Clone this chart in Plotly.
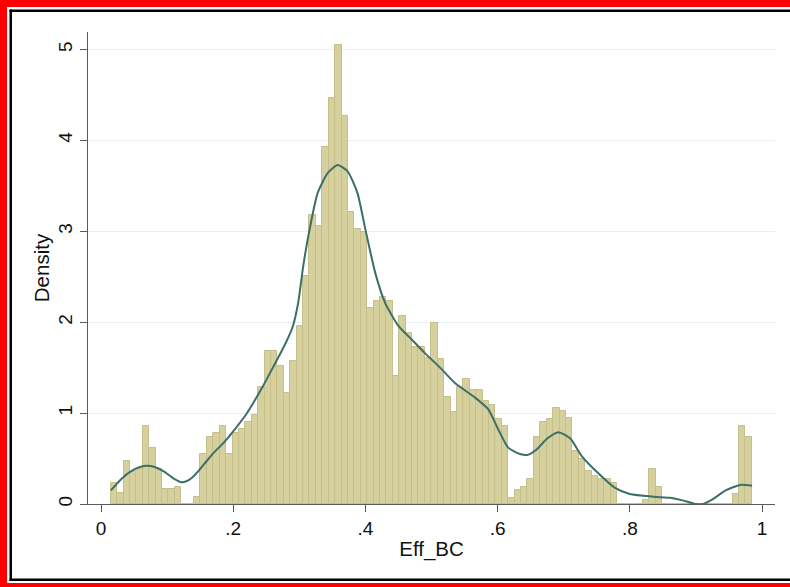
import plotly.graph_objects as go

# ---- data ----
bin_start = 0.0147
bin_width = 0.0097
densities = [
    0.23, 0.12, 0.47, 0.35, 0.38, 0.86, 0.62, 0.38, 0.16, 0.16,
    0.19, 0.00, 0.00, 0.08, 0.55, 0.74, 0.78, 0.86, 0.55, 0.78,
    0.82, 0.90, 0.98, 1.29, 1.68, 1.68, 1.52, 1.22, 1.57, 1.96,
    2.51, 3.18, 3.06, 3.93, 4.47, 5.05, 4.27, 3.21, 3.02, 2.99,
    2.16, 2.23, 2.28, 2.23, 1.41, 2.07, 1.88, 1.73, 1.73, 1.61,
    1.99, 1.60, 1.18, 1.01, 1.29, 1.37, 1.25, 1.25, 1.13, 1.09,
    0.94, 0.86, 0.07, 0.15, 0.19, 0.28, 0.74, 0.90, 0.94, 1.06,
    1.02, 0.95, 0.58, 0.49, 0.36, 0.31, 0.28, 0.28, 0.23, 0.00,
    0.00, 0.00, 0.00, 0.04, 0.39, 0.19, 0.00, 0.00, 0.00, 0.00,
    0.00, 0.00, 0.00, 0.00, 0.00, 0.00, 0.00, 0.11, 0.86, 0.74,
]

kde_x = [0.015, 0.03, 0.045, 0.06, 0.07, 0.08, 0.095, 0.11, 0.122, 0.132,
         0.142, 0.155, 0.17, 0.185, 0.2, 0.22, 0.243, 0.26, 0.28, 0.29,
         0.298, 0.306, 0.315, 0.3277, 0.3429, 0.358, 0.3731, 0.388, 0.400,
         0.415, 0.43, 0.45, 0.47, 0.49, 0.513, 0.5355, 0.566, 0.586, 0.601,
         0.616, 0.634, 0.645, 0.659, 0.675, 0.692, 0.71, 0.727, 0.752, 0.777,
         0.80, 0.836, 0.861, 0.88, 0.899, 0.911, 0.925, 0.945, 0.967, 0.985]
kde_y = [0.15, 0.27, 0.36, 0.41, 0.42, 0.41, 0.36, 0.28, 0.24, 0.26,
         0.32, 0.43, 0.56, 0.67, 0.80, 0.99, 1.27, 1.50, 1.78, 1.95,
         2.20, 2.62, 3.00, 3.42, 3.64, 3.73, 3.66, 3.42, 3.02,
         2.54, 2.21, 1.96, 1.81, 1.66, 1.50, 1.33, 1.17, 1.04, 0.82,
         0.62, 0.55, 0.54, 0.60, 0.72, 0.79, 0.72, 0.53, 0.34, 0.18,
         0.11, 0.08, 0.068, 0.04, 0.0, 0.0, 0.05, 0.15, 0.21, 0.20]

x_tickvals = [0, 0.2, 0.4, 0.6, 0.8, 1]
x_ticktext = ["0", ".2", ".4", ".6", ".8", "1"]
y_tickvals = [0, 1, 2, 3, 4, 5]
y_ticktext = ["0", "1", "2", "3", "4", "5"]

bin_centers = [bin_start + bin_width * (i + 0.5) for i in range(len(densities))]

# ---- geometry ----
W, H = 790, 587
L, R, T, B = 88, 15, 32, 83
PW, PH = W - L - R, H - T - B


def px(x):
    return (x - L) / PW


def py(y):
    return (H - B - y) / PH


fig = go.Figure()
fig.add_trace(go.Bar(
    x=bin_centers, y=densities, width=bin_width,
    marker=dict(color="#d5d09e", line=dict(color="#c5bf8a", width=1)),
    showlegend=False, hoverinfo="x+y",
))
fig.add_trace(go.Scatter(
    x=kde_x, y=kde_y, mode="lines",
    line=dict(color="#3b6f69", width=2, shape="spline", smoothing=0.6),
    showlegend=False,
))

font_family = "Liberation Sans, Arial, Helvetica, sans-serif"
axis_color = "#5a5a5a"

fig.update_layout(
    width=W, height=H,
    margin=dict(l=L, r=R, t=T, b=B),
    paper_bgcolor="white", plot_bgcolor="white",
    bargap=0,
    font=dict(family=font_family, size=19, color="#111"),
    xaxis=dict(
        range=[-13 / 661, 1 + 13 / 661],
        tickvals=x_tickvals, ticktext=x_ticktext,
        ticks="outside", ticklen=7, tickcolor=axis_color, tickwidth=1,
        showline=True, linecolor=axis_color, linewidth=1,
        showgrid=False, zeroline=False,
        title=dict(text="Eff_BC", font=dict(size=20.5), standoff=3),
        tickfont=dict(size=19),
    ),
    yaxis=dict(
        range=[0, PH / 90.9],
        tickvals=y_tickvals, ticktext=y_ticktext, tickangle=-90,
        ticks="outside", ticklen=7, tickcolor=axis_color, tickwidth=1,
        showline=True, linecolor=axis_color, linewidth=1,
        showgrid=True, gridcolor="#e8f0f1", gridwidth=1,
        zeroline=False,
        title=dict(text="Density", font=dict(size=20.5), standoff=0),
        tickfont=dict(size=19),
    ),
    shapes=[
        dict(type="rect", xref="paper", yref="paper", x0=px(0), x1=px(7), y0=py(0), y1=py(587),
             fillcolor="#ff0000", line=dict(width=0), layer="above"),
        dict(type="rect", xref="paper", yref="paper", x0=px(0), x1=px(790), y0=py(0), y1=py(7),
             fillcolor="#ff0000", line=dict(width=0), layer="above"),
        dict(type="rect", xref="paper", yref="paper", x0=px(0), x1=px(790), y0=py(583), y1=py(587),
             fillcolor="#ff0000", line=dict(width=0), layer="above"),
        dict(type="rect", xref="paper", yref="paper", x0=px(9.5), x1=px(12), y0=py(9.5), y1=py(581),
             fillcolor="#000", line=dict(width=0), layer="above"),
        dict(type="rect", xref="paper", yref="paper", x0=px(9.5), x1=px(790), y0=py(9.5), y1=py(12),
             fillcolor="#000", line=dict(width=0), layer="above"),
        dict(type="rect", xref="paper", yref="paper", x0=px(9.5), x1=px(790), y0=py(578.5), y1=py(581),
             fillcolor="#000", line=dict(width=0), layer="above"),
    ],
)

fig.write_html("out.html")
